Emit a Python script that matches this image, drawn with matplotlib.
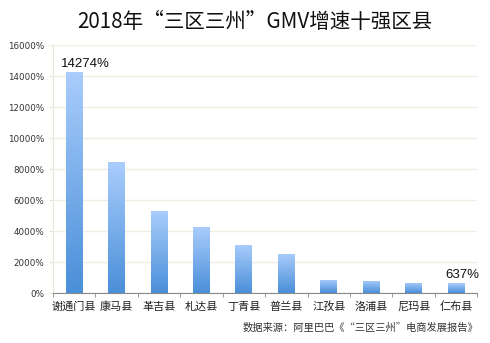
import matplotlib
matplotlib.use("Agg")
import matplotlib.pyplot as plt
import numpy as np
from matplotlib.colors import LinearSegmentedColormap
from matplotlib.ticker import FuncFormatter, MultipleLocator

plt.rcParams['font.family'] = ['Liberation Sans', 'Noto Sans CJK SC', 'DejaVu Sans']

counties = ['谢通门县', '康马县', '革吉县', '札达县', '丁青县',
            '普兰县', '江孜县', '洛浦县', '尼玛县', '仁布县']
growth = [14274, 8440, 5300, 4280, 3100, 2530, 850, 800, 660, 637]
labelled = {0: '14274%', 9: '637%'}

title = '2018年“三区三州”GMV增速十强区县'
source = '数据来源：阿里巴巴《“三区三州”电商发展报告》'

fig = plt.figure(figsize=(4.9, 3.43), dpi=100)
ax = fig.add_axes([0.108, 0.145, 0.866, 0.723])

x = np.arange(len(counties))
bars = ax.bar(x, growth, width=0.4, color='none', zorder=3)

# vertical gradient fill inside each bar: light at top, darker at bottom
cmap = LinearSegmentedColormap.from_list('bar', ['#4a8fd9', '#aacdfc'])
grad = np.linspace(0, 1, 256).reshape(-1, 1)
for b in bars:
    x0, w, h = b.get_x(), b.get_width(), b.get_height()
    im = ax.imshow(grad, extent=[x0, x0 + w, 0, h], origin='lower',
                   aspect='auto', cmap=cmap, zorder=3)
    im.set_clip_path(b)

offsets = {0: 0.27, 9: 0.16}
for i, txt in labelled.items():
    ax.text(x[i] + offsets[i], growth[i] + 150, txt, ha='center', va='bottom',
            fontsize=9.5, color='#111111', zorder=4)

ax.set_xlim(-0.5, len(counties) - 0.5)
ax.set_ylim(0, 16000)
ax.yaxis.set_major_locator(MultipleLocator(2000))
ax.yaxis.set_major_formatter(FuncFormatter(lambda v, p: f'{int(v)}%'))
ax.grid(axis='y', color='#efefe4', linewidth=1, zorder=0)

ax.set_xticks(x)
ax.set_xticklabels(counties, fontsize=8, color='#222222')
ax.set_xticks(np.arange(-0.5, len(counties)), minor=True)
ax.tick_params(axis='x', which='major', length=0, pad=6)
ax.tick_params(axis='x', which='minor', length=3, color='#888888')
ax.tick_params(axis='y', labelsize=6.3, length=3, color='#e6e6da',
               labelcolor='#333333', pad=3)
for lab in ax.get_yticklabels():
    lab.set_family('DejaVu Sans')

for s in ['top', 'right']:
    ax.spines[s].set_visible(False)
ax.spines['left'].set_color('#e6e6da')
ax.spines['bottom'].set_color('#888888')

fig.text(0.52, 0.935, title, ha='center', va='center', fontsize=14.8,
         color='#111111', family=['Noto Sans CJK SC', 'DejaVu Sans'])
fig.text(0.977, 0.045, source, ha='right', va='center', fontsize=7.4,
         color='#333333', fontweight='medium',
         family=['Noto Sans CJK SC', 'DejaVu Sans'])

fig.savefig('out.png', dpi=100)
